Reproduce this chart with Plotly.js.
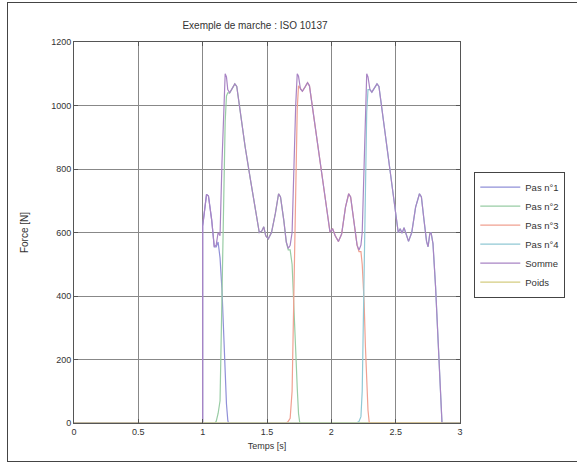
<!DOCTYPE html>
<html>
<head>
<meta charset="utf-8">
<script src="https://cdn.plot.ly/plotly-3.0.1.min.js"></script>
<style>
  body { margin: 0; background: #fff; }
  #wrap { position: relative; width: 577px; height: 463px; }
  #chart { position: absolute; left: 0; top: 0; width: 577px; height: 463px; }
  #frame { position: absolute; left: 7px; top: 2px; width: 575px; height: 458px;
           border: 1px solid #444; border-right: none; pointer-events: none; }
</style>
</head>
<body>
<div id="wrap"><div id="chart"></div><div id="frame"></div></div>
<script>
// ---- data ----
const seriesNames = ["Pas n°1", "Pas n°2", "Pas n°3", "Pas n°4", "Somme", "Poids"];

const pas1T = [0, 1.0, 1.0, 1.01, 1.03, 1.045, 1.07, 1.09, 1.105, 1.12, 1.135, 1.15, 1.163, 1.175, 1.185, 1.195, 1.20, 3.0];
const pas1F = [0, 0, 620, 660, 720, 715, 640, 555, 555, 570, 520, 420, 280, 150, 60, 10, 0, 0];

const pas2T = [0, 1.095, 1.105, 1.12, 1.135, 1.15, 1.163, 1.175, 1.185, 1.195, 1.21, 1.23, 1.25, 1.265, 1.29, 1.33, 1.37, 1.41, 1.44, 1.46, 1.475, 1.49, 1.51, 1.535, 1.565, 1.59, 1.605, 1.63, 1.65, 1.665, 1.68, 1.695, 1.71, 1.723, 1.735, 1.745, 1.755, 3.0];
const pas2F = [0, 0, 5, 30, 70, 400, 720, 950, 1030, 1040, 1040, 1052, 1068, 1060, 980, 870, 770, 670, 600, 605, 618, 590, 580, 600, 660, 722, 712, 640, 570, 545, 545, 500, 380, 230, 110, 30, 0, 0];

const pas3T = [0, 1.65, 1.665, 1.68, 1.695, 1.71, 1.723, 1.735, 1.745, 1.76, 1.775, 1.795, 1.815, 1.83, 1.86, 1.90, 1.94, 1.97, 1.99, 2.01, 2.03, 2.055, 2.08, 2.11, 2.135, 2.15, 2.175, 2.20, 2.215, 2.23, 2.24, 2.255, 2.265, 2.275, 2.285, 2.295, 3.0];
const pas3F = [0, 0, 5, 15, 100, 440, 770, 990, 1062, 1052, 1045, 1058, 1072, 1062, 975, 865, 750, 660, 600, 612, 590, 572, 595, 680, 722, 712, 630, 560, 540, 540, 500, 380, 240, 120, 40, 0, 0];

const pas4T = [0, 2.195, 2.215, 2.23, 2.24, 2.255, 2.265, 2.275, 2.285, 2.30, 2.315, 2.335, 2.355, 2.37, 2.40, 2.44, 2.48, 2.505, 2.52, 2.535, 2.55, 2.565, 2.585, 2.60, 2.625, 2.655, 2.685, 2.70, 2.72, 2.74, 2.752, 2.765, 2.775, 2.79, 2.81, 2.83, 2.85, 2.86, 3.0];
const pas4F = [0, 0, 5, 20, 100, 440, 760, 980, 1050, 1050, 1042, 1055, 1068, 1060, 970, 855, 735, 650, 600, 612, 598, 615, 590, 572, 600, 680, 722, 712, 640, 572, 555, 595, 600, 565, 430, 250, 60, 0, 0];

const sommeT = [0, 1.0, 1.0, 1.01, 1.03, 1.045, 1.07, 1.09, 1.105, 1.12, 1.135, 1.15, 1.163, 1.175, 1.185, 1.195, 1.21, 1.23, 1.25, 1.265, 1.29, 1.33, 1.37, 1.41, 1.44, 1.46, 1.475, 1.49, 1.51, 1.535, 1.565, 1.59, 1.605, 1.63, 1.65, 1.665, 1.68, 1.695, 1.71, 1.723, 1.735, 1.745, 1.76, 1.775, 1.795, 1.815, 1.83, 1.86, 1.90, 1.94, 1.97, 1.99, 2.01, 2.03, 2.055, 2.08, 2.11, 2.135, 2.15, 2.175, 2.20, 2.215, 2.23, 2.24, 2.255, 2.265, 2.275, 2.285, 2.30, 2.315, 2.335, 2.355, 2.37, 2.40, 2.44, 2.48, 2.505, 2.52, 2.535, 2.55, 2.565, 2.585, 2.60, 2.625, 2.655, 2.685, 2.70, 2.72, 2.74, 2.752, 2.765, 2.775, 2.79, 2.81, 2.83, 2.85, 2.86, 3.0];
const sommeF = [0, 0, 620, 660, 720, 715, 640, 555, 560, 600, 590, 820, 1000, 1100, 1090, 1050, 1040, 1052, 1068, 1060, 980, 870, 770, 670, 600, 605, 618, 590, 580, 600, 660, 722, 712, 640, 570, 550, 560, 600, 820, 1000, 1100, 1092, 1052, 1045, 1058, 1072, 1062, 975, 865, 750, 660, 600, 612, 590, 572, 595, 680, 722, 712, 630, 560, 545, 560, 600, 820, 1000, 1100, 1090, 1050, 1042, 1055, 1068, 1060, 970, 855, 735, 650, 600, 612, 598, 615, 590, 572, 600, 680, 722, 712, 640, 572, 555, 595, 600, 565, 430, 250, 60, 0, 0];

const poidsT = [0, 3.0];
const poidsF = [0, 0];

const xTicks = [0, 0.5, 1, 1.5, 2, 2.5, 3];
const xTickLabels = ["0", "0.5", "1", "1.5", "2", "2.5", "3"];
const yTicks = [0, 200, 400, 600, 800, 1000, 1200];
const yTickLabels = ["0", "200", "400", "600", "800", "1000", "1200"];

// ---- styling ----
const colors = ["#9090d8", "#98cca4", "#f0a090", "#90c8d4", "#a884c4", "#d4cc80"];
const xs = [pas1T, pas2T, pas3T, pas4T, sommeT, poidsT];
const ys = [pas1F, pas2F, pas3F, pas4F, sommeF, poidsF];

const traces = seriesNames.map((n, i) => ({
  type: "scatter", mode: "lines", name: n,
  x: xs[i], y: ys[i],
  line: { color: colors[i], width: 1.2 },
  legendgroup: "g" + i
}));

const font = { family: "Liberation Sans, Arial, sans-serif", size: 9, color: "#333" };

const layout = {
  width: 577, height: 463,
  margin: { l: 74, r: 115, t: 42, b: 40 },
  paper_bgcolor: "#fff", plot_bgcolor: "#fff",
  font: font,
  showlegend: true,
  title: { text: "Exemple de marche : ISO 10137", x: 255 / 577, xanchor: "center",
           y: 1 - 25 / 463, yanchor: "middle", font: { family: font.family, size: 10, color: "#333" } },
  xaxis: {
    range: [0, 3], tickvals: xTicks, ticktext: xTickLabels,
    showgrid: true, gridcolor: "#888", gridwidth: 1,
    showline: true, mirror: "ticks", linecolor: "#555", linewidth: 1,
    ticks: "inside", ticklen: 4, tickcolor: "#555",
    zeroline: false,
    title: { text: "Temps [s]", standoff: 6, font: { family: font.family, size: 9, color: "#333" } }
  },
  yaxis: {
    range: [0, 1200], tickvals: yTicks, ticktext: yTickLabels,
    showgrid: true, gridcolor: "#888", gridwidth: 1,
    showline: true, mirror: "ticks", linecolor: "#555", linewidth: 1,
    ticks: "inside", ticklen: 4, tickcolor: "#555",
    zeroline: false,
    title: { text: "Force [N]", standoff: 20, font: { family: font.family, size: 10, color: "#333" } }
  },
  legend: {
    x: 1.037, xanchor: "left", y: 0.66, yanchor: "top",
    bgcolor: "#fff", bordercolor: "#444", borderwidth: 1,
    font: { family: font.family, size: 9.5, color: "#333" },
    itemwidth: 40, tracegroupgap: 0
  }
};

Plotly.newPlot("chart", traces, layout, { displayModeBar: false, staticPlot: true });
</script>
</body>
</html>
